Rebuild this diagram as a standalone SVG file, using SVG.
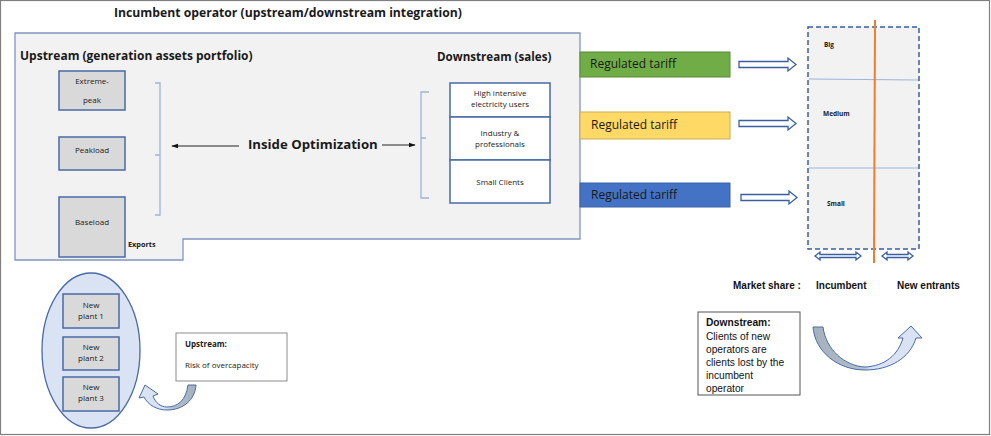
<svg xmlns="http://www.w3.org/2000/svg" width="991" height="436" viewBox="0 0 991 436">
<defs>
<style>
.t{font-family:"Open Sans","Liberation Sans",sans-serif;fill:#1a1a1a}
.b{font-weight:bold}
.a{font-family:"Liberation Sans",Arial,sans-serif;fill:#111}
.gen{fill:#d9d9d9;stroke:#4a6aa5;stroke-width:1.5}
.seg{fill:#fff;stroke:#4a6aa5;stroke-width:1.5}
.brk{fill:none;stroke:#9db4dc;stroke-width:1.3}
.blk{fill:#fff;stroke:#3a5fa0;stroke-width:1.3}
.ln{stroke:#222;stroke-width:1}
</style>
<marker id="ah" viewBox="0 0 10 10" refX="9" refY="5" markerWidth="7" markerHeight="7" orient="auto-start-reverse" markerUnits="userSpaceOnUse">
<path d="M0,1.5 L10,5 L0,8.5 Z" fill="#111"/>
</marker>
<linearGradient id="gr1" x1="0" y1="0" x2="1" y2="0">
<stop offset="0" stop-color="#a5b0bd"/><stop offset="0.45" stop-color="#b4bfcc"/><stop offset="0.55" stop-color="#dae3f3"/><stop offset="1" stop-color="#dae3f3"/>
</linearGradient>
<linearGradient id="gr2" x1="0" y1="0" x2="1" y2="0">
<stop offset="0" stop-color="#dae3f3"/><stop offset="0.45" stop-color="#dae3f3"/><stop offset="0.6" stop-color="#b4bfcc"/><stop offset="1" stop-color="#a5b0bd"/>
</linearGradient>
</defs>
<rect x="0.5" y="0.5" width="989" height="434" fill="#fff" stroke="#7f7f7f" stroke-width="1.2"/>

<text class="t b" x="114" y="17" font-size="12.2">Incumbent operator (upstream/downstream integration)</text>

<g id="incumbent">
<path d="M15,33 H580 V239 H183 V260 H15 Z" fill="#f2f2f2" stroke="#7f95c0" stroke-width="1.3"/>
<text class="t b" x="20" y="60" font-size="12">Upstream (generation assets portfolio)</text>
<text class="t b" x="437" y="61" font-size="11.6">Downstream (sales)</text>
<text class="t b" x="128" y="247" font-size="7.3">Exports</text>
<text class="t b" x="248" y="149" font-size="13.2">Inside Optimization</text>
</g>

<g id="extreme-peak">
<rect class="gen" x="59" y="71" width="66" height="39"/>
<text class="t" x="92" y="84" font-size="8" text-anchor="middle">Extreme-</text>
<text class="t" x="92" y="103" font-size="8" text-anchor="middle">peak</text>
</g>
<g id="peakload">
<rect class="gen" x="59" y="137" width="66" height="33"/>
<text class="t" x="92" y="153" font-size="8" text-anchor="middle">Peakload</text>
</g>
<g id="baseload">
<rect class="gen" x="59" y="197" width="66" height="60"/>
<text class="t" x="92" y="225" font-size="8" text-anchor="middle">Baseload</text>
</g>

<g id="customers">
<rect class="seg" x="450" y="83" width="100" height="34"/>
<text class="t" x="500" y="96" font-size="8" text-anchor="middle">High intensive</text>
<text class="t" x="500" y="107" font-size="8" text-anchor="middle">electricity users</text>
<rect class="seg" x="450" y="117" width="100" height="43"/>
<text class="t" x="500" y="136" font-size="8" text-anchor="middle">Industry &amp;</text>
<text class="t" x="500" y="147" font-size="8" text-anchor="middle">professionals</text>
<rect class="seg" x="450" y="160" width="100" height="43"/>
<text class="t" x="500" y="185" font-size="8" text-anchor="middle">Small Clients</text>
</g>

<g id="tariff-green">
<rect x="580" y="52" width="150" height="25" fill="#70ad47" stroke="#5a8a3a" stroke-width="1"/>
<text class="t" x="590" y="68" font-size="12">Regulated tariff</text>
</g>
<g id="tariff-yellow">
<rect x="580" y="112" width="150" height="27" fill="#ffd966" stroke="#c9ad5a" stroke-width="1"/>
<text class="t" x="591" y="129" font-size="12">Regulated tariff</text>
</g>
<g id="tariff-blue">
<rect x="580" y="183" width="150" height="24" fill="#4472c4" stroke="#3a62a8" stroke-width="1"/>
<text class="t" x="591" y="199" font-size="12">Regulated tariff</text>
</g>

<g id="market">
<rect x="808" y="27" width="111" height="222" fill="#f2f2f2" stroke="#3a5fa0" stroke-width="1.5" stroke-dasharray="5,3"/>
<line x1="809" y1="79" x2="918" y2="80" stroke="#9db4dc" stroke-width="1"/>
<line x1="809" y1="168" x2="918" y2="168" stroke="#9db4dc" stroke-width="1"/>
<text class="t b" x="824" y="47" font-size="6.5">Big</text>
<text class="t b" x="823" y="116" font-size="6.5">Medium</text>
<text class="t b" x="827" y="206" font-size="6.5">Small</text>
<line x1="875" y1="20" x2="874" y2="263" stroke="#ed7d31" stroke-width="2"/>
</g>

<text class="a b" x="733" y="289" font-size="10">Market share :</text>
<text class="a b" x="816" y="289" font-size="10">Incumbent</text>
<text class="a b" x="897" y="289" font-size="10">New entrants</text>

<g id="new-plants">
<ellipse cx="91" cy="350.5" rx="49" ry="77.5" fill="#dae3f3" stroke="#4a6aa5" stroke-width="1.3"/>
<rect class="gen" x="63" y="294" width="56" height="34"/>
<text class="t" x="91" y="308" font-size="8" text-anchor="middle">New</text>
<text class="t" x="91" y="319" font-size="8" text-anchor="middle">plant 1</text>
<rect class="gen" x="63" y="337" width="56" height="33"/>
<text class="t" x="91" y="350" font-size="8" text-anchor="middle">New</text>
<text class="t" x="91" y="361" font-size="8" text-anchor="middle">plant 2</text>
<rect class="gen" x="63" y="377" width="56" height="34"/>
<text class="t" x="91" y="390" font-size="8" text-anchor="middle">New</text>
<text class="t" x="91" y="401" font-size="8" text-anchor="middle">plant 3</text>
</g>

<g id="upstream-note">
<rect x="176" y="333" width="111" height="48" fill="#fff" stroke="#8c8c8c" stroke-width="1"/>
<text class="t b" x="185" y="347" font-size="8">Upstream:</text>
<text class="t" x="185" y="368" font-size="8">Risk of overcapacity</text>
</g>

<g id="downstream-note">
<rect x="698" y="312" width="102" height="83" fill="#fff" stroke="#555" stroke-width="1"/>
<text class="a b" x="706" y="326" font-size="10.2">Downstream:</text>
<text class="a" x="706" y="340" font-size="10.2">Clients of new</text>
<text class="a" x="706" y="353" font-size="10.2">operators are</text>
<text class="a" x="706" y="366" font-size="10.2">clients lost by the</text>
<text class="a" x="706" y="379" font-size="10.2">incumbent</text>
<text class="a" x="706" y="392" font-size="10.2">operator</text>
</g>

<g id="connectors">
<path class="brk" d="M155,83 H160 V215 H155 M160,155 H155"/>
<path class="brk" d="M429,92 H421 V198 H429 M421,138 H426"/>
<line class="ln" x1="239" y1="146" x2="172" y2="146" marker-end="url(#ah)"/>
<line class="ln" x1="382" y1="145" x2="415" y2="145" marker-end="url(#ah)"/>
<path class="blk" d="M739,61.5 H788 V58 L796,64.5 L788,71 V67.5 H739 Z"/>
<path class="blk" d="M739,120.5 H788 V117 L796,123.5 L788,130 V126.5 H739 Z"/>
<path class="blk" d="M741,194.5 H789 V191 L797,197.5 L789,204 V200.5 H741 Z"/>
<path class="blk" d="M815,256 L820,252 V254.5 H856 V252 L861,256 L856,260 V257.5 H820 V260 Z"/>
<path class="blk" d="M882,256 L887,252 V254.5 H908 V252 L913,256 L908,260 V257.5 H887 V260 Z"/>
<path d="M813,327 L823,327 C826,350 845,366 865,367 C885,366 898,355 903,338 L898,338 L911,326 L922,338 L916,338 C910,358 890,370 865,370 C838,370 815,352 813,327 Z" fill="url(#gr1)" stroke="#4a6aa5" stroke-width="1"/>
<path d="M196,385 L188,385 C186,400 178,407 167,407 C160,407 155,402 153,396 L158,394 L145,385 L139,398 L144,397 C148,405 157,410 167,410 C183,410 195,400 196,385 Z" fill="url(#gr2)" stroke="#4a6aa5" stroke-width="1"/>
</g>
</svg>
